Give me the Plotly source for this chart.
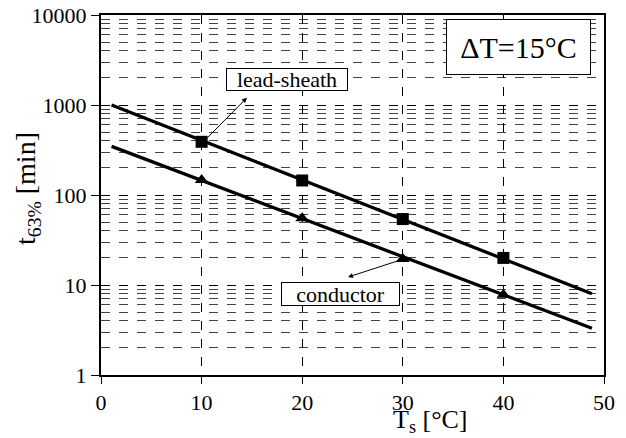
import plotly.graph_objects as go

# measured points
temps = [10, 20, 30, 40]
lead_sheath = [390, 145, 54, 20]
conductor = [147, 55, 19.5, 7.8]

# fitted lines (end points)
fit_x = [1.05, 48.8]
lead_fit = [1000, 8.0]
cond_fit = [347, 3.3]

x_ticks = [0, 10, 20, 30, 40, 50]
y_ticks = [1, 10, 100, 1000, 10000]
y_labels = ["1", "10", "100", "1000", "10000"]
minor_vals = [m * d for d in [1, 10, 100, 1000] for m in range(2, 10)]

serif = "Liberation Serif"

fig = go.Figure()
fig.add_trace(go.Scatter(x=fit_x, y=lead_fit, mode="lines",
                         line=dict(color="black", width=3.3), showlegend=False))
fig.add_trace(go.Scatter(x=fit_x, y=cond_fit, mode="lines",
                         line=dict(color="black", width=3.3), showlegend=False))
fig.add_trace(go.Scatter(x=temps, y=lead_sheath, mode="markers",
                         marker=dict(symbol="square", size=12, color="black"),
                         showlegend=False))
fig.add_trace(go.Scatter(x=temps, y=conductor, mode="markers",
                         marker=dict(symbol="triangle-up", size=12, color="black"),
                         showlegend=False))

fig.update_xaxes(range=[0, 50], tickvals=x_ticks, ticks="outside", ticklen=7,
                 tickcolor="black", showline=True, mirror=True, linecolor="black",
                 linewidth=2, showgrid=True, gridcolor="black", griddash="dash",
                 gridwidth=1.3, zeroline=False, automargin=False,
                 tickfont=dict(family=serif, size=22, color="black"))
fig.update_yaxes(type="log", range=[0, 4], tickvals=y_ticks, ticktext=y_labels,
                 ticks="outside", ticklen=8, tickcolor="black", showline=True,
                 mirror=True, linecolor="black", linewidth=2, showgrid=True,
                 gridcolor="black", griddash="dash", gridwidth=1.3, zeroline=False,
                 automargin=False,
                 tickfont=dict(family=serif, size=22, color="black"),
                 minor=dict(tickvals=minor_vals, showgrid=True, gridcolor="#444444",
                            griddash="dash", gridwidth=1, ticks=""))

# axis titles (placed as in the reference)
fig.add_annotation(x=0.656, y=-0.128, xref="paper", yref="paper",
                   xanchor="center", yanchor="middle",
                   text="T<sub>s</sub> [°C]", showarrow=False,
                   font=dict(family=serif, size=26, color="black"))
fig.add_annotation(x=-0.145, y=0.517, xref="paper", yref="paper",
                   xanchor="center", yanchor="middle",
                   text="t<sub>63%</sub> [min]", showarrow=False, textangle=-90,
                   font=dict(family=serif, size=28, color="black"))

# arrows
fig.add_annotation(x=14.5, y=3.08, ax=10.4, ay=2.616, xref="x", yref="y",
                   axref="x", ayref="y", text="", showarrow=True, arrowhead=2,
                   arrowsize=1, arrowwidth=1, arrowcolor="black")
fig.add_annotation(x=24.55, y=1.088, ax=29.7, ay=1.275, xref="x", yref="y",
                   axref="x", ayref="y", text="", showarrow=True, arrowhead=2,
                   arrowsize=1, arrowwidth=1, arrowcolor="black")

# label boxes
fig.add_annotation(x=18.5, y=3.28, xref="x", yref="y", text="lead-sheath",
                   showarrow=False, bgcolor="white", bordercolor="black",
                   borderwidth=1, borderpad=1, width=118, height=19,
                   font=dict(family=serif, size=22, color="black"))
fig.add_annotation(x=23.8, y=0.9, xref="x", yref="y", text="conductor",
                   showarrow=False, bgcolor="white", bordercolor="black",
                   borderwidth=1, borderpad=1, width=115, height=20,
                   font=dict(family=serif, size=22, color="black"))
fig.add_annotation(x=41.55, y=3.64, xref="x", yref="y", text="ΔT=15°C",
                   showarrow=False, bgcolor="white", bordercolor="black",
                   borderwidth=1, borderpad=1, width=141, height=52,
                   font=dict(family=serif, size=30, color="black"))

fig.update_layout(width=626, height=438, margin=dict(l=101, r=22, t=15, b=63),
                  plot_bgcolor="white", paper_bgcolor="white")

fig.write_html("out.html")
